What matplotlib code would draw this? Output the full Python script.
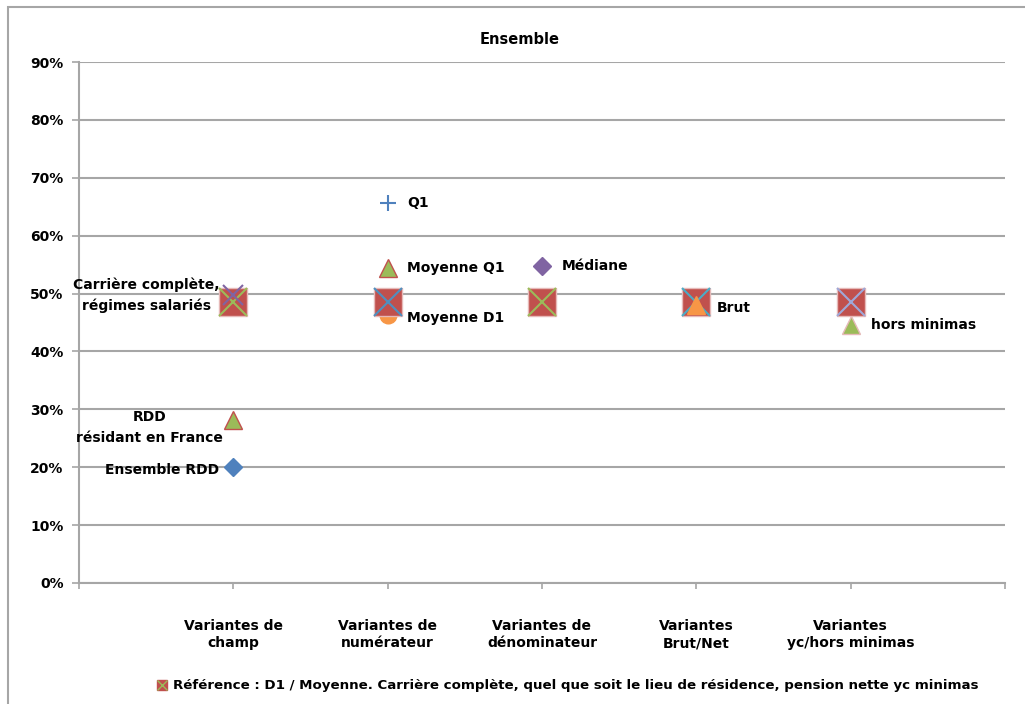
import matplotlib
matplotlib.use("Agg")
import matplotlib.pyplot as plt
from matplotlib.patches import Rectangle
from matplotlib.lines import Line2D

plt.rcParams["font.family"] = ["DejaVu Sans"]

# ---- data -------------------------------------------------------------
categories = [
    "Variantes de\nchamp",
    "Variantes de\nnumérateur",
    "Variantes de\ndénominateur",
    "Variantes\nBrut/Net",
    "Variantes\nyc/hors minimas",
]
reference_values = [48.6, 48.6, 48.6, 48.6, 48.6]
reference_cross_colors = ["#9BBB59", "#4F8FBF", "#9BBB59", "#4BACC6", "#9FA8D8"]

variant_labels = [
    "Ensemble RDD",
    "RDD\nrésidant en France",
    "Carrière complète,\nrégimes salariés",
    "Q1",
    "Moyenne Q1",
    "Moyenne D1",
    "Médiane",
    "Brut",
    "hors minimas",
]
variant_category = [0, 0, 0, 1, 1, 1, 2, 3, 4]
variant_values = [20.0, 28.2, 49.7, 65.6, 54.4, 46.3, 54.7, 48.0, 44.6]

y_ticks = [0, 10, 20, 30, 40, 50, 60, 70, 80, 90]
legend_text = ("Référence : D1 / Moyenne. Carrière complète, quel que soit le lieu "
               "de résidence, pension nette yc minimas")

# ---- marker styles for each variant ------------------------------------
variant_styles = [
    dict(marker="D", ms=9, mfc="#4F81BD", mec="#4F81BD", z=4),
    dict(marker="^", ms=13, mfc="#9BBB59", mec="#C0504D", z=4),
    dict(marker="x", ms=14, mfc="#8064A2", mec="#8064A2", z=6),
    dict(marker="+", ms=12, mfc="#4F81BD", mec="#4F81BD", z=4),
    dict(marker="^", ms=13, mfc="#9BBB59", mec="#C0504D", z=4),
    dict(marker="o", ms=12, mfc="#F79646", mec="#F79646", z=2),
    dict(marker="D", ms=9, mfc="#8064A2", mec="#8064A2", z=4),
    dict(marker="^", ms=13, mfc="#F79646", mec="#F79646", z=6),
    dict(marker="^", ms=13, mfc="#9BBB59", mec="#E6B9B8", z=4),
]
# label placement: (side, dx pixels, dy pixels)
label_place = [
    ("right", -14, -3),
    ("right", -10, -8),
    ("right", -14, 0),
    ("left", 20, 0),
    ("left", 19, 0),
    ("left", 19, -3),
    ("left", 20, 0),
    ("left", 20, -3),
    ("left", 20, 0),
]

fig = plt.figure(figsize=(10.25, 7.04), dpi=100)
fig.patch.set_facecolor("white")

# outer chart frame
fig.add_artist(Rectangle((8 / 1025, -0.01), 1.02, 1 - 7 / 704 + 0.01,
                         transform=fig.transFigure, fill=False,
                         edgecolor="#A6A6A6", linewidth=1.5))

ax = fig.add_axes([79 / 1025, 121 / 704, 926 / 1025, 521 / 704])
positions = [i + 1 for i in range(len(categories))]

ax.set_xlim(0, 6)
ax.set_ylim(0, 90)
ax.set_yticks(y_ticks)
ax.set_yticklabels([f"{v}%" for v in y_ticks], fontsize=10, fontweight="bold")
ax.set_xticks([0] + positions + [6])
ax.set_xticklabels([])
ax.tick_params(axis="both", length=4, color="#A6A6A6", width=1.2, pad=6)
ax.tick_params(axis="y", length=5)
ax.grid(axis="y", color="#A6A6A6", linewidth=1.5)
ax.set_axisbelow(True)
for side in ("top", "right"):
    ax.spines[side].set_visible(False)
for side in ("left", "bottom"):
    ax.spines[side].set_color("#A6A6A6")
    ax.spines[side].set_linewidth(1.5)

# category labels beneath the axis
for x, cat in zip(positions, categories):
    ax.annotate(cat, (x, 0), xytext=(0, -26), textcoords="offset points",
                ha="center", va="top", fontsize=10, fontweight="bold",
                linespacing=1.3, annotation_clip=False)

# reference points: red squares with a coloured cross
ax.plot(positions, reference_values, linestyle="none", marker="s", ms=20,
        mfc="#C0504D", mec="#E6B9B8", mew=1.0, zorder=3)
for x, v, c in zip(positions, reference_values, reference_cross_colors):
    ax.plot([x], [v], linestyle="none", marker="x", ms=20, mec=c, mew=1.5,
            zorder=5)

# variants
for lab, ci, v, st, (side, dx, dy) in zip(variant_labels, variant_category,
                                          variant_values, variant_styles,
                                          label_place):
    x = positions[ci]
    mew = 1.5 if st["marker"] in ("x", "+") else 1.0
    ax.plot([x], [v], linestyle="none", marker=st["marker"], ms=st["ms"],
            mfc=st["mfc"], mec=st["mec"], mew=mew, zorder=st["z"])
    ax.annotate(lab, (x, v), xytext=(dx * 0.72, dy * 0.72),
                textcoords="offset points", ha=side, va="center",
                multialignment="center", fontsize=10, fontweight="bold",
                linespacing=1.6, zorder=7)

# title
fig.text(520 / 1025, 1 - 40 / 704, "Ensemble", ha="center", va="center",
         fontsize=10.5, fontweight="bold")

# legend entry at the bottom: square with cross, then its text
ly = 1 - 685 / 704
fig.add_artist(Line2D([162 / 1025], [ly], marker="s", ms=6.5,
                      mfc="#C0504D", mec="#C0504D",
                      transform=fig.transFigure))
fig.add_artist(Line2D([162 / 1025], [ly], marker="x", ms=6.5,
                      mec="#9BBB59", mew=1.0, transform=fig.transFigure))
fig.text(173 / 1025, ly, legend_text, ha="left", va="center",
         fontsize=9.6, fontweight="bold")

fig.savefig("out.png", dpi=100, facecolor="white")
